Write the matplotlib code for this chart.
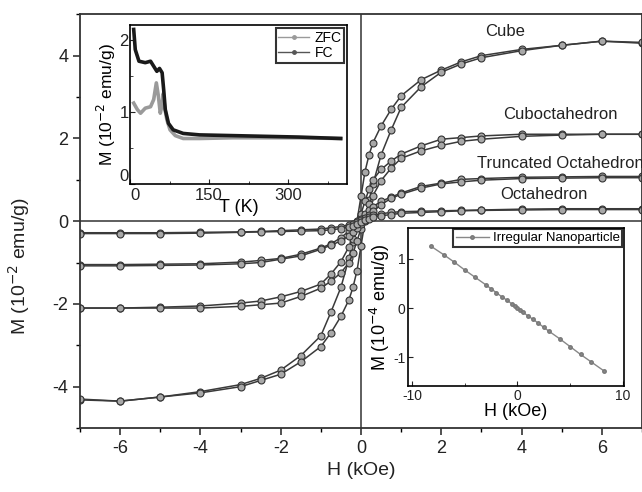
import numpy as np
import matplotlib.pyplot as plt
from matplotlib.lines import Line2D
from matplotlib.ticker import MultipleLocator

plt.rcParams['font.family'] = ['Liberation Sans', 'DejaVu Sans']
plt.rcParams['axes.unicode_minus'] = False

# main loops: field grid (kOe) and magnetization (1e-2 emu/g)
H = [-7, -6, -5, -4, -3, -2.5, -2, -1.5, -1, -0.75, -0.5, -0.3, -0.2, -0.1, 0,
     0.1, 0.2, 0.3, 0.5, 0.75, 1, 1.5, 2, 2.5, 3, 4, 5, 6, 7]

cube_desc = [-4.32, -4.35, -4.25, -4.12, -3.95, -3.8, -3.6, -3.25, -2.77, -2.2, -1.6, -0.9, -0.5, 0.0, 0.6,
             1.2, 1.6, 1.9, 2.3, 2.7, 3.03, 3.42, 3.65, 3.85, 4.0, 4.15, 4.25, 4.35, 4.3]
cube_asc = [-4.3, -4.35, -4.25, -4.15, -4.0, -3.85, -3.7, -3.4, -3.03, -2.7, -2.3, -1.9, -1.6, -1.2, -0.6,
            0.0, 0.5, 0.9, 1.6, 2.2, 2.75, 3.25, 3.6, 3.8, 3.95, 4.12, 4.25, 4.35, 4.32]

cubo_desc = [-2.1, -2.1, -2.08, -2.05, -1.98, -1.93, -1.83, -1.7, -1.52, -1.28, -0.98, -0.62, -0.42, -0.12, 0.18,
             0.48, 0.78, 1.0, 1.25, 1.45, 1.62, 1.82, 1.98, 2.02, 2.06, 2.1, 2.1, 2.1, 2.1]
cubo_asc = [-2.1, -2.1, -2.1, -2.1, -2.06, -2.02, -1.98, -1.82, -1.62, -1.45, -1.25, -1.0, -0.78, -0.48, -0.18,
            0.12, 0.42, 0.62, 0.98, 1.28, 1.52, 1.7, 1.83, 1.93, 1.98, 2.05, 2.08, 2.1, 2.1]

trunc_desc = [-1.05, -1.05, -1.04, -1.03, -0.99, -0.95, -0.9, -0.8, -0.65, -0.55, -0.4, -0.24, -0.15, -0.05, 0.06,
              0.17, 0.27, 0.35, 0.48, 0.58, 0.68, 0.84, 0.92, 1.01, 1.03, 1.06, 1.07, 1.08, 1.08]
trunc_asc = [-1.08, -1.08, -1.07, -1.06, -1.03, -1.0, -0.92, -0.84, -0.68, -0.58, -0.48, -0.35, -0.27, -0.17, -0.06,
             0.05, 0.15, 0.24, 0.4, 0.55, 0.65, 0.8, 0.9, 0.95, 0.99, 1.03, 1.04, 1.05, 1.05]

octa_desc = [-0.28, -0.28, -0.28, -0.27, -0.26, -0.25, -0.23, -0.21, -0.19, -0.16, -0.13, -0.09, -0.06, -0.02, 0.02,
             0.07, 0.11, 0.14, 0.18, 0.21, 0.23, 0.24, 0.25, 0.26, 0.27, 0.29, 0.3, 0.3, 0.3]
octa_asc = [-0.3, -0.3, -0.3, -0.29, -0.27, -0.26, -0.25, -0.24, -0.23, -0.21, -0.18, -0.14, -0.11, -0.07, -0.02,
            0.02, 0.06, 0.09, 0.13, 0.16, 0.19, 0.21, 0.23, 0.25, 0.26, 0.27, 0.28, 0.28, 0.28]

shape_labels = ['Cube', 'Cuboctahedron', 'Truncated Octahedron', 'Octahedron']
label_pos = [(3.6, 4.58), (4.96, 2.58), (4.96, 1.4), (4.55, 0.65)]

# ZFC / FC inset: T (K), M (1e-2 emu/g)
T_fc = [7, 10, 17, 29, 39, 45, 51, 56, 61, 64, 67, 73, 82, 101, 132, 195, 257, 320, 400]
M_fc = [2.14, 1.86, 1.7, 1.68, 1.7, 1.63, 1.56, 1.6, 1.54, 1.3, 1.03, 0.84, 0.75, 0.7, 0.68, 0.67, 0.66, 0.65, 0.63]
T_zfc = [7, 14, 20, 29, 39, 45, 50, 54, 57.5, 61, 63, 66, 70, 76, 86, 101, 132, 195, 257, 320, 400]
M_zfc = [1.12, 1.03, 0.98, 1.05, 1.07, 1.17, 1.4, 1.21, 0.98, 1.1, 1.25, 1.05, 0.89, 0.75, 0.67, 0.63, 0.63,
         0.64, 0.64, 0.64, 0.63]

# irregular nanoparticle inset: H (kOe), M (1e-4 emu/g)
H_irr = [-8.2, -7, -6, -5, -4, -3, -2.5, -2, -1.5, -1, -0.5, -0.25, 0, 0.25, 0.5, 1, 1.5, 2, 2.5, 3, 4, 5, 6, 7, 8.2]
M_irr = [1.25, 1.08, 0.93, 0.77, 0.62, 0.47, 0.39, 0.31, 0.23, 0.16, 0.08, 0.04, 0.0, -0.04, -0.08, -0.16, -0.23,
         -0.31, -0.39, -0.47, -0.62, -0.78, -0.94, -1.09, -1.27]

fig = plt.figure(figsize=(6.42, 4.92), dpi=100)
ax = fig.add_axes([0.1246, 0.130, 0.8754, 0.841])

line_kw = dict(color='#3a3a3a', lw=1.1, marker='o', ms=5, mfc='#a8a8a8', mec='#333333', mew=0.8)
for desc, asc in [(cube_desc, cube_asc), (cubo_desc, cubo_asc), (trunc_desc, trunc_asc), (octa_desc, octa_asc)]:
    ax.plot(H, desc, **line_kw)
    ax.plot(H, asc, **line_kw)

ax.axhline(0, color='#333333', lw=1.1, zorder=0)
ax.axvline(0, color='#333333', lw=1.1, zorder=0)

for lab, (x, y) in zip(shape_labels, label_pos):
    ax.text(x, y, lab, ha='center', va='center', fontsize=12, color='#222222')

ax.set_xlim(-7, 7)
ax.set_ylim(-5, 5)
ax.xaxis.set_major_locator(MultipleLocator(2))
ax.xaxis.set_minor_locator(MultipleLocator(1))
ax.yaxis.set_major_locator(MultipleLocator(2))
ax.yaxis.set_minor_locator(MultipleLocator(1))
ax.tick_params(which='major', direction='out', length=5, width=1.1, labelsize=13, colors='#222222')
ax.tick_params(which='minor', direction='out', length=3, width=1.0)
for s in ax.spines.values():
    s.set_linewidth(1.3)
    s.set_color('#333333')
ax.set_xlabel('H (kOe)', fontsize=14, color='#222222')
ax.set_ylabel('M (10$^{-2}$ emu/g)', fontsize=14, color='#222222')
ax.yaxis.set_label_coords(-0.085, 0.39)

# inset 1: ZFC / FC
ax1 = fig.add_axes([0.2025, 0.626, 0.338, 0.323])
ax1.plot(T_zfc, M_zfc, color='#9a9a9a', lw=2.6)
ax1.plot(T_fc, M_fc, color='#1a1a1a', lw=2.6)
ax1.set_xlim(0, 412)
ax1.set_ylim(0, 2.2)
ax1.set_xticks([0, 150, 300])
ax1.set_yticks([0, 1, 2])
ax1.xaxis.set_minor_locator(MultipleLocator(75))
ax1.yaxis.set_minor_locator(MultipleLocator(0.5))
ax1.tick_params(which='both', direction='in', labelsize=12, colors='#222222')
ax1.tick_params(axis='y', pad=1)
ax1.tick_params(axis='x', pad=3)
ax1.tick_params(which='minor', length=2)
ax1.get_xticklabels()[0].set_ha('left')
ax1.get_yticklabels()[0].set_va('bottom')
ax1.set_xlabel('T (K)', fontsize=13, labelpad=-3)
ax1.set_ylabel('M (10$^{-2}$ emu/g)', fontsize=12.5, labelpad=1)
for s in ax1.spines.values():
    s.set_linewidth(1.2)
handles = [Line2D([], [], color='#9a9a9a', lw=1.0, marker='o', ms=2.5),
           Line2D([], [], color='#555555', lw=1.0, marker='o', ms=2.5)]
leg1 = ax1.legend(handles, ['ZFC', 'FC'], loc='upper right', fontsize=10, frameon=True, fancybox=False,
                  edgecolor='black', handlelength=2.2, borderpad=0.2, labelspacing=0.1, handletextpad=0.4,
                  borderaxespad=0.2)
leg1.get_frame().set_linewidth(1.5)

# inset 2: irregular nanoparticle
ax2 = fig.add_axes([0.6355, 0.2154, 0.336, 0.321])
ax2.plot(H_irr, M_irr, color='#888888', lw=1.0, marker='o', ms=2.5, mfc='#888888', mec='#777777',
         label='Irregular Nanoparticle')
ax2.set_xlim(-10.4, 10.1)
ax2.set_ylim(-1.58, 1.62)
ax2.set_xticks([-10, 0, 10])
ax2.set_yticks([-1, 0, 1])
ax2.xaxis.set_minor_locator(MultipleLocator(5))
ax2.tick_params(which='both', direction='in', labelsize=10, pad=2, colors='#222222')
ax2.tick_params(which='minor', length=2)
ax2.set_xlabel('H (kOe)', fontsize=13, labelpad=0)
ax2.set_ylabel('M (10$^{-4}$ emu/g)', fontsize=13, labelpad=1)
for s in ax2.spines.values():
    s.set_linewidth(1.2)
leg2 = ax2.legend(loc='upper right', fontsize=9, frameon=True, fancybox=False, edgecolor='black',
                  handlelength=2.5, borderpad=0.2, handletextpad=0.3, borderaxespad=0.1,
                  prop={'family': ['Liberation Sans Narrow', 'Liberation Sans'], 'size': 9.5})
leg2.get_frame().set_linewidth(1.5)

fig.savefig('out.png', dpi=100)
